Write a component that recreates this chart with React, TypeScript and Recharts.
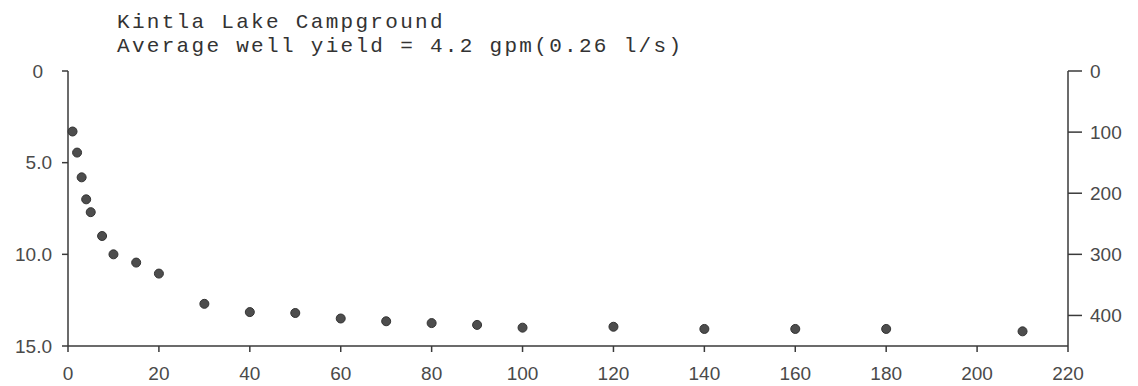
import React from "react";
import { ScatterChart, Scatter, XAxis, YAxis } from "recharts";

// time since pumping started (minutes) and drawdown (feet)
const minutes = [1, 2, 3, 4, 5, 7.5, 10, 15, 20, 30, 40, 50, 60, 70, 80, 90, 100, 120, 140, 160, 180, 210];
const drawdownFt = [3.3, 4.45, 5.8, 7.0, 7.7, 9.0, 10.0, 10.45, 11.05, 12.7, 13.15, 13.2, 13.5, 13.65, 13.75, 13.85, 14.0, 13.95, 14.07, 14.07, 14.07, 14.2];

const xTicks = [0, 20, 40, 60, 80, 100, 120, 140, 160, 180, 200, 220];
const ftTicks = [0, 5, 10, 15];
const cmTicks = [0, 100, 200, 300, 400];

const titleLines = ["Kintla Lake Campground", "Average well yield = 4.2 gpm(0.26 l/s)"];

// same points in cm for the right-hand scale
const data = minutes.map((m, i) => ({ m, ft: drawdownFt[i], cm: drawdownFt[i] * 30.48 }));

const ink = "#3a3a3a";
const tickFont = { fill: "#4a4a4a", fontSize: 19, fontFamily: "Liberation Sans" };

const Dot = (props: any) => (
  <circle cx={props.cx} cy={props.cy} r={4.5} fill="#4d4d4d" stroke="#333" strokeWidth={1} />
);

const LeftTick = (props: any) => {
  const { x, y, payload } = props;
  const v = payload.value;
  return (
    <text x={v === 0 ? x - 9 : x} y={y} dy="0.355em" textAnchor="end" {...tickFont}>
      {v === 0 ? "0" : v.toFixed(1)}
    </text>
  );
};

const RightTick = (props: any) => {
  const { x, y, payload } = props;
  return (
    <text x={x} y={y} dy="0.355em" textAnchor="start" {...tickFont}>
      {payload.value}
    </text>
  );
};

export default function App() {
  return (
    <div style={{ position: "absolute", left: 0, top: 0, width: 1138, height: 386, background: "#fff" }}>
      {titleLines.map((t, i) => (
        <div
          key={t}
          style={{
            position: "absolute",
            left: 117,
            top: 11 + i * 24,
            fontFamily: "Liberation Mono",
            fontSize: 21,
            letterSpacing: 2.3,
            lineHeight: "24px",
            color: "#333",
            whiteSpace: "pre",
          }}
        >
          {t}
        </div>
      ))}
      <ScatterChart width={1138} height={386} margin={{ top: 71, right: 0, bottom: 0, left: 0 }}>
        <XAxis
          type="number"
          dataKey="m"
          domain={[0, 220]}
          ticks={xTicks}
          height={40}
          tickSize={6}
          tickMargin={15}
          stroke={ink}
          strokeWidth={1.5}
          tick={tickFont}
        />
        <YAxis
          yAxisId="ft"
          type="number"
          dataKey="ft"
          domain={[0, 15]}
          ticks={ftTicks}
          reversed
          width={68}
          tickSize={6}
          tickMargin={10}
          stroke={ink}
          strokeWidth={1.5}
          tick={<LeftTick />}
        />
        <YAxis
          yAxisId="cm"
          orientation="right"
          type="number"
          dataKey="cm"
          domain={[0, 450]}
          ticks={cmTicks}
          reversed
          width={70}
          tickSize={14}
          tickMargin={8}
          stroke={ink}
          strokeWidth={1.5}
          tick={<RightTick />}
        />
        <Scatter yAxisId="cm" data={data} dataKey="cm" fill="none" shape={() => <g />} isAnimationActive={false} />
        <Scatter yAxisId="ft" data={data} dataKey="ft" shape={<Dot />} isAnimationActive={false} />
      </ScatterChart>
    </div>
  );
}
